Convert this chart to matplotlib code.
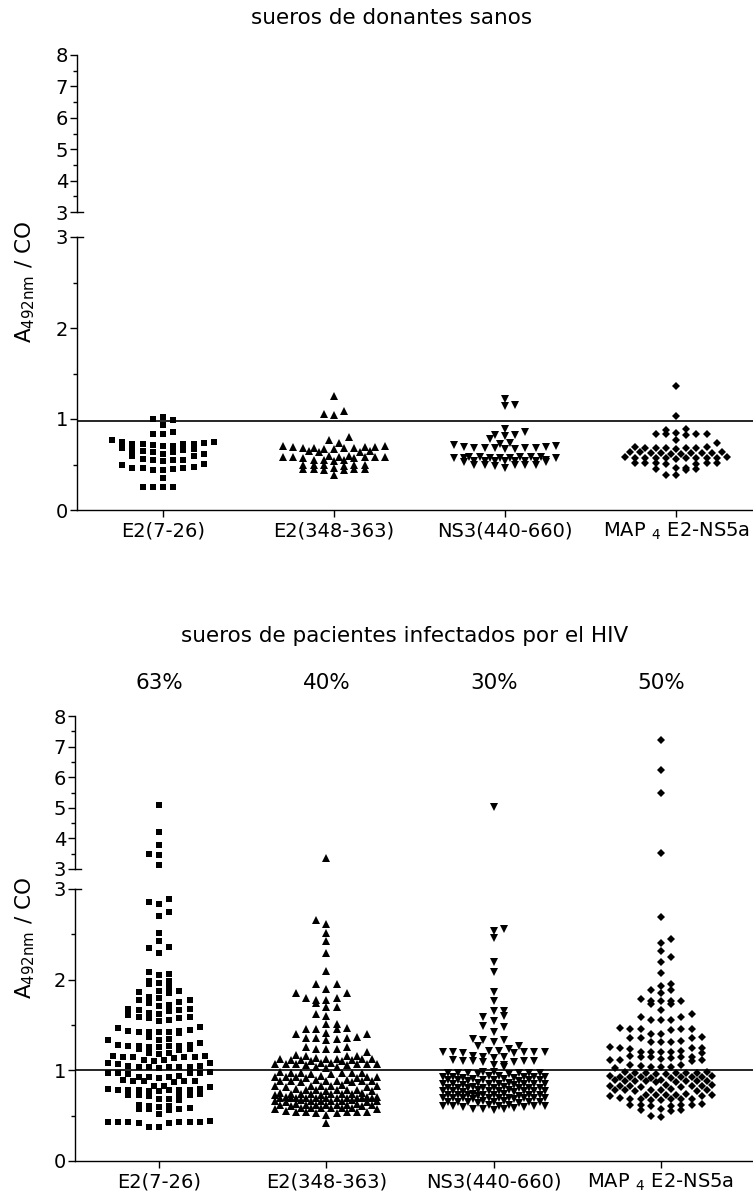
import numpy as np
import matplotlib
matplotlib.use('Agg')
import matplotlib.pyplot as plt
from matplotlib.lines import Line2D
from matplotlib import transforms

# ---- data ----
categories = ['E2(7-26)', 'E2(348-363)', 'NS3(440-660)', r'MAP $_{\mathrm{4}}$ E2-NS5a']
positives = ['63%', '40%', '30%', '50%']
cutoff_healthy = 0.98
cutoff_hiv = 1.0

healthy_e2_7 = [
    1.02, 1.00, 0.99, 0.93, 0.86, 0.84, 0.84,
    0.77, 0.75, 0.75, 0.74, 0.73, 0.73, 0.72, 0.72, 0.71, 0.70, 0.70,
    0.68, 0.67, 0.66, 0.66, 0.65, 0.64, 0.64, 0.62, 0.61, 0.59, 0.59,
    0.56, 0.55, 0.55, 0.55, 0.54, 0.51, 0.50,
    0.47, 0.46, 0.46, 0.46, 0.45, 0.44, 0.44,
    0.35, 0.25, 0.25, 0.25, 0.25]
healthy_e2_348 = [
    1.25, 1.09, 1.05, 1.04, 0.80, 0.77, 0.74,
    0.70, 0.69, 0.69, 0.68, 0.68, 0.68, 0.67, 0.67, 0.68, 0.69, 0.70,
    0.65, 0.65, 0.64, 0.64,
    0.59, 0.58, 0.58, 0.58, 0.57, 0.58, 0.59, 0.58, 0.57, 0.58,
    0.55, 0.55, 0.54, 0.55,
    0.50, 0.49, 0.49, 0.48, 0.50, 0.49,
    0.45, 0.45, 0.44, 0.45, 0.44, 0.45, 0.46,
    0.38]
healthy_ns3 = [
    1.22, 1.15, 1.14, 0.89, 0.86, 0.82, 0.82, 0.81, 0.78, 0.74, 0.73,
    0.71, 0.69, 0.68, 0.68, 0.68, 0.67, 0.68, 0.68, 0.67, 0.69, 0.70,
    0.58, 0.58, 0.57, 0.57, 0.57, 0.58, 0.57, 0.57, 0.58, 0.57, 0.58,
    0.54, 0.54, 0.53, 0.54, 0.54, 0.55, 0.54, 0.53, 0.54, 0.54,
    0.50, 0.49, 0.49, 0.48, 0.49, 0.50,
    0.46]
healthy_map = [
    1.36, 1.03, 0.89, 0.88, 0.85, 0.84, 0.83, 0.83, 0.82, 0.84, 0.77, 0.74,
    0.69, 0.68, 0.68, 0.68, 0.67, 0.68, 0.69, 0.68,
    0.64, 0.63, 0.63, 0.62, 0.63, 0.62, 0.63, 0.64, 0.63, 0.64,
    0.58, 0.57, 0.57, 0.57, 0.57, 0.58, 0.57, 0.57, 0.57, 0.56, 0.57,
    0.52, 0.52, 0.51, 0.52, 0.52, 0.51, 0.52,
    0.46, 0.45, 0.45, 0.44, 0.46,
    0.39, 0.38]

hiv_e2_7 = [
    5.10, 4.20, 3.80, 3.48, 3.47, 3.12,
    2.89, 2.86, 2.83, 2.75, 2.70, 2.51, 2.43, 2.36, 2.35, 2.29, 2.09, 2.06, 2.05,
    1.99, 1.98, 1.96, 1.95, 1.92, 1.88, 1.87, 1.86, 1.85, 1.81, 1.80, 1.78, 1.78,
    1.75, 1.74, 1.72, 1.71, 1.68, 1.68, 1.67, 1.66, 1.65, 1.63, 1.62, 1.61,
    1.59, 1.59, 1.58, 1.58, 1.55, 1.54,
    1.48, 1.47, 1.44, 1.43, 1.42, 1.42, 1.41, 1.42, 1.43, 1.42,
    1.37, 1.35, 1.34, 1.33, 1.30,
    1.28, 1.27, 1.27, 1.26, 1.27, 1.28, 1.27, 1.26,
    1.23, 1.23, 1.22, 1.19, 1.19, 1.18,
    1.16, 1.15, 1.15, 1.14, 1.15, 1.16, 1.15,
    1.11, 1.11, 1.10, 1.08, 1.08, 1.07,
    1.05, 1.04, 1.04, 1.03, 1.04, 1.05, 1.04, 1.04,
    0.97, 0.97, 0.96, 0.97, 0.98, 0.97,
    0.93, 0.92, 0.93, 0.94, 0.93,
    0.88, 0.88, 0.87, 0.88, 0.89, 0.88,
    0.83, 0.82, 0.83,
    0.78, 0.78, 0.77, 0.78, 0.79, 0.78, 0.77, 0.78, 0.78, 0.79,
    0.73, 0.72, 0.73, 0.74, 0.73, 0.72,
    0.68, 0.67, 0.68,
    0.61, 0.60, 0.61, 0.62,
    0.57, 0.56, 0.57, 0.58, 0.57,
    0.52,
    0.43, 0.43, 0.42, 0.43, 0.44, 0.43, 0.42, 0.43, 0.43,
    0.38, 0.37]
hiv_e2_348 = [
    3.35,
    2.66, 2.61, 2.52, 2.43, 2.29, 2.10,
    1.95, 1.95, 1.90, 1.85, 1.85, 1.80, 1.80, 1.78, 1.78, 1.74, 1.70, 1.70,
    1.62, 1.60, 1.51, 1.51,
    1.46, 1.46, 1.47, 1.46, 1.40, 1.40, 1.41, 1.37, 1.36, 1.36, 1.35, 1.36, 1.33,
    1.26, 1.26, 1.24, 1.24, 1.23, 1.20,
    1.16, 1.16, 1.17, 1.16,
    1.13, 1.13, 1.12, 1.13, 1.14, 1.13,
    1.11, 1.10, 1.11, 1.11, 1.10,
    1.07, 1.07, 1.06, 1.07, 1.08, 1.07, 1.07, 1.06, 1.07, 1.08,
    1.04, 1.04, 1.03,
    0.97, 0.97, 0.96, 0.97, 0.98, 0.97, 0.96, 0.97,
    0.93, 0.92, 0.93, 0.94, 0.93, 0.92, 0.93, 0.93,
    0.88, 0.88, 0.87, 0.88, 0.89, 0.88, 0.87, 0.88, 0.89, 0.88,
    0.83, 0.82, 0.83, 0.84, 0.83, 0.82, 0.83, 0.83,
    0.78, 0.78, 0.77, 0.78, 0.79, 0.78, 0.77, 0.78,
    0.74, 0.74, 0.73, 0.74, 0.75, 0.74, 0.73, 0.74, 0.74, 0.75,
    0.70, 0.70, 0.69, 0.70, 0.71, 0.70, 0.69, 0.70, 0.70, 0.71, 0.70, 0.69, 0.70, 0.71,
    0.66, 0.66, 0.65, 0.66, 0.67, 0.66, 0.65, 0.66, 0.66, 0.67,
    0.62, 0.62, 0.61, 0.62, 0.63, 0.62, 0.61, 0.62, 0.62, 0.63, 0.62,
    0.58, 0.58, 0.57, 0.58, 0.59, 0.58, 0.57, 0.58,
    0.54, 0.54, 0.53, 0.54, 0.55, 0.54, 0.53, 0.54,
    0.51, 0.42]
hiv_ns3 = [
    5.02,
    2.56, 2.54, 2.46, 2.19, 2.09, 1.86, 1.76, 1.65, 1.65, 1.60, 1.59,
    1.54, 1.49, 1.48, 1.42, 1.35, 1.34, 1.34, 1.31, 1.27, 1.27, 1.24,
    1.20, 1.20, 1.19, 1.20, 1.21, 1.20, 1.19, 1.20, 1.21,
    1.15, 1.15, 1.16, 1.14,
    1.10, 1.10, 1.09, 1.10, 1.11, 1.10, 1.09,
    1.06, 1.06, 1.04,
    0.97, 0.97, 0.96, 0.97, 0.98, 0.97, 0.96, 0.97, 0.98, 0.97,
    0.93, 0.92, 0.93, 0.94, 0.93, 0.92, 0.93, 0.94, 0.93,
    0.89, 0.89, 0.88, 0.89, 0.90, 0.89, 0.88, 0.89, 0.90, 0.89,
    0.85, 0.85, 0.84, 0.85, 0.86, 0.85, 0.84, 0.85, 0.86, 0.85, 0.85,
    0.81, 0.81, 0.80, 0.81, 0.82, 0.81, 0.80, 0.81, 0.82, 0.81,
    0.77, 0.77, 0.76, 0.77, 0.78, 0.77, 0.76, 0.77, 0.78, 0.77, 0.77,
    0.73, 0.73, 0.72, 0.73, 0.74, 0.73, 0.72, 0.73, 0.74, 0.73, 0.73,
    0.69, 0.69, 0.68, 0.69, 0.70, 0.69, 0.68, 0.69, 0.70, 0.69, 0.69,
    0.65, 0.65, 0.64, 0.65, 0.66, 0.65, 0.64, 0.65, 0.66, 0.65,
    0.61, 0.61, 0.60, 0.61, 0.62, 0.61, 0.60, 0.61, 0.62,
    0.57, 0.57, 0.56, 0.58, 0.57]
hiv_map = [
    7.20, 6.25, 5.50, 3.53,
    2.69, 2.45, 2.40, 2.32, 2.25, 2.19, 2.07, 1.95, 1.93, 1.89, 1.89, 1.85, 1.79,
    1.77, 1.77, 1.76, 1.77, 1.73, 1.73, 1.67, 1.62, 1.59, 1.59, 1.55, 1.55, 1.56,
    1.46, 1.46, 1.47, 1.46, 1.45, 1.46, 1.40, 1.40,
    1.36, 1.36, 1.37, 1.36, 1.31, 1.31, 1.32, 1.31,
    1.25, 1.25, 1.26, 1.25, 1.24,
    1.20, 1.20, 1.21, 1.20, 1.19, 1.20,
    1.15, 1.15, 1.16, 1.15, 1.14, 1.15,
    1.11, 1.11, 1.10, 1.11, 1.12, 1.06, 1.06,
    1.04, 1.04, 1.03, 1.04, 1.05,
    0.97, 0.97, 0.96, 0.97, 0.98, 0.97, 0.96, 0.97, 0.98,
    0.93, 0.92, 0.93, 0.94, 0.93, 0.92, 0.93, 0.94, 0.93, 0.93,
    0.88, 0.88, 0.87, 0.88, 0.89, 0.88, 0.87, 0.88, 0.89, 0.88,
    0.83, 0.83, 0.82, 0.83, 0.84, 0.83, 0.82, 0.83, 0.84,
    0.78, 0.78, 0.77, 0.78, 0.79, 0.78, 0.77, 0.78,
    0.73, 0.73, 0.72, 0.73, 0.74, 0.73, 0.72, 0.73,
    0.68, 0.68, 0.67, 0.68, 0.69, 0.68, 0.67, 0.68,
    0.62, 0.62, 0.61, 0.62, 0.63, 0.62, 0.61,
    0.56, 0.56, 0.55, 0.57,
    0.50, 0.49]

healthy = [healthy_e2_7, healthy_e2_348, healthy_ns3, healthy_map]
hiv = [hiv_e2_7, hiv_e2_348, hiv_ns3, hiv_map]

# ---- style ----
markers = ['s', '^', 'v', 'D']
msizes = [5.0, 5.6, 5.6, 3.7]
FS_TICK = 14
FS_TEXT = 15.5
W, H = 753, 1199
plt.rcParams['font.family'] = ['DejaVu Sans']

fig = plt.figure(figsize=(W / 100, H / 100), dpi=100)


def fx(px):
    return px / W


def fy(py):
    return 1 - py / H


def row_slots(ypix, row_h=6.5, nmax=5):
    # column scatter like Prism: points close in y share a row and are spread
    # sideways from the centre; a full row carries on in a half-shifted row
    full = [0] + [s for k in range(1, nmax + 1) for s in (-k, k)]
    half = [s for k in range(nmax) for s in (-(k + 0.5), k + 0.5)]
    order = np.argsort(ypix, kind='stable')
    slots = np.zeros(len(ypix))
    cur, start, shifted, sign = [], 0.0, False, 1

    def assign(row, shifted, sign):
        pos = half if shifted else full
        for j, idx in enumerate(row):
            slots[idx] = pos[j % len(pos)] * sign

    for i in order:
        cap = len(half) if shifted else len(full)
        if cur and (ypix[i] - start > row_h or len(cur) >= cap):
            crowded = len(cur) >= cap and ypix[i] - start <= row_h
            assign(cur, shifted, sign)
            shifted = (not shifted) if crowded else False
            sign = -sign
            cur = []
        if not cur:
            start = ypix[i]
        cur.append(i)
    assign(cur, shifted, sign)
    return slots


def make_panel(left, top8, up3, low3, zero, xlim, groups, cutoff):
    wfrac = fx(W - left)
    ax_up = fig.add_axes([fx(left), fy(up3), wfrac, (up3 - top8) / H])
    ax_lo = fig.add_axes([fx(left), fy(zero), wfrac, (zero - low3) / H])
    for ax in (ax_up, ax_lo):
        ax.set_xlim(*xlim)
        ax.patch.set_alpha(0)
        for sp in ('top', 'right'):
            ax.spines[sp].set_visible(False)
        ax.spines['left'].set_linewidth(1.0)
        ax.tick_params(axis='y', which='major', length=5, width=1.0,
                       labelsize=FS_TICK, pad=1.5)
        ax.tick_params(axis='y', which='minor', length=3, width=1.0)
    ax_up.set_ylim(3, 8)
    ax_up.set_yticks(range(3, 9))
    ax_up.set_yticks(np.arange(3.5, 8, 1.0), minor=True)
    ax_up.spines['bottom'].set_visible(False)
    ax_up.set_xticks([])
    ax_lo.set_ylim(0, 3)
    ax_lo.set_yticks(range(0, 4))
    ax_lo.set_yticks(np.arange(0.5, 3, 1.0), minor=True)
    ax_lo.spines['bottom'].set_linewidth(1.0)
    ax_lo.set_xticks(range(len(categories)))
    ax_lo.set_xticklabels(categories, fontsize=FS_TICK)
    ax_lo.tick_params(axis='x', length=5, width=1.0, pad=3)
    ax_lo.axhline(cutoff, color='black', lw=1.2)

    # small caps on the axis break
    x0 = fx(left)
    for yy in (fy(up3), fy(low3)):
        fig.add_artist(Line2D([x0, x0 + 6 / W], [yy, yy], color='black', lw=1.0))

    xunit = ax_lo.transData.transform((1, 0))[0] - ax_lo.transData.transform((0, 0))[0]
    slot_px = 10.2
    for i, vals in enumerate(groups):
        vals = np.asarray(vals, float)
        ypix = np.array([(ax_up if v > 3 else ax_lo).transData.transform((i, v))[1]
                         for v in vals])
        xs = i + row_slots(ypix) * slot_px / xunit
        up = vals > 3
        for ax, m in ((ax_up, up), (ax_lo, ~up)):
            ax.plot(xs[m], vals[m], ls='none', marker=markers[i], ms=msizes[i],
                    mew=0, color='black', clip_on=False)
    return ax_up, ax_lo


make_panel(77, 55, 212, 237, 510, (-0.503, 3.45), healthy, cutoff_healthy)
bu, bl = make_panel(75, 716, 869, 889, 1161, (-0.502, 3.55), hiv, cutoff_hiv)

fig.text(fx(392), fy(18), 'sueros de donantes sanos', ha='center', va='center',
         fontsize=FS_TEXT)
fig.text(fx(405), fy(636), 'sueros de pacientes infectados por el HIV',
         ha='center', va='center', fontsize=FS_TEXT)
tr = transforms.blended_transform_factory(bu.transData, fig.transFigure)
for i, p in enumerate(positives):
    bu.text(i, fy(683), p, transform=tr, ha='center', va='center', fontsize=FS_TEXT)

ylab = r'A$_{\mathrm{492nm}}$ / CO'
fig.text(fx(25), fy((55 + 510) / 2), ylab, rotation=90, ha='center', va='center',
         fontsize=FS_TEXT)
fig.text(fx(25), fy((716 + 1161) / 2), ylab, rotation=90, ha='center', va='center',
         fontsize=FS_TEXT)

fig.savefig('out.png', dpi=100)
